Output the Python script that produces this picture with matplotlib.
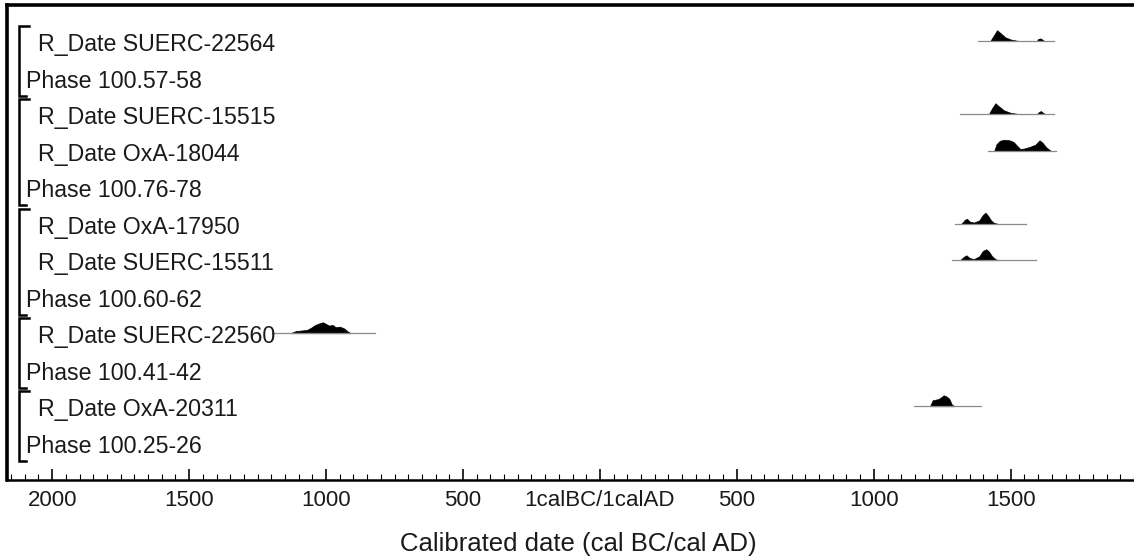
import matplotlib.pyplot as plt
from matplotlib.transforms import blended_transform_factory

plt.rcParams["font.family"] = ["Liberation Sans", "DejaVu Sans"]

labels = [
    "R_Date SUERC-22564",
    "Phase 100.57-58",
    "R_Date SUERC-15515",
    "R_Date OxA-18044",
    "Phase 100.76-78",
    "R_Date OxA-17950",
    "R_Date SUERC-15511",
    "Phase 100.60-62",
    "R_Date SUERC-22560",
    "Phase 100.41-42",
    "R_Date OxA-20311",
    "Phase 100.25-26",
]

# phase brackets: (first row, last row)
groups = [(0, 1), (2, 4), (5, 7), (8, 9), (10, 11)]

# year ranges of the thin line under each date
ranges = {
    0: (1382, 1658),
    2: (1313, 1658),
    3: (1418, 1665),
    5: (1295, 1556),
    6: (1284, 1593),
    8: (-1196, -822),
    10: (1145, 1393),
}

# probability shapes: years and relative height
dist_years = {
    0: [1425, 1440, 1450, 1462, 1480, 1500, 1520, 1540, 1595, 1600, 1608, 1615, 1622],
    2: [1420, 1432, 1444, 1455, 1475, 1500, 1525, 1545, 1595, 1603, 1610, 1618, 1625],
    3: [1440, 1448, 1460, 1475, 1495, 1510, 1525, 1535, 1550, 1570, 1590, 1605, 1615, 1630, 1645],
    5: [1320, 1332, 1340, 1350, 1365, 1385, 1398, 1408, 1418, 1428, 1440, 1450],
    6: [1315, 1328, 1338, 1350, 1365, 1385, 1398, 1410, 1420, 1432, 1445, 1460],
    8: [-1130, -1110, -1090, -1070, -1055, -1040, -1025, -1012, -1000, -990, -975, -965, -950, -935, -920, -910],
    10: [1205, 1215, 1225, 1235, 1245, 1255, 1265, 1275, 1285, 1295],
}
dist_prob = {
    0: [0, 0.6, 1.0, 0.75, 0.35, 0.15, 0.05, 0, 0, 0.2, 0.25, 0.15, 0],
    2: [0, 0.55, 1.0, 0.75, 0.35, 0.12, 0.03, 0, 0, 0.2, 0.28, 0.12, 0],
    3: [0, 0.6, 0.9, 1.0, 0.95, 0.8, 0.4, 0.15, 0.2, 0.35, 0.55, 0.95, 0.75, 0.3, 0],
    5: [0, 0.35, 0.45, 0.2, 0.1, 0.3, 0.8, 1.0, 0.7, 0.3, 0.05, 0],
    6: [0, 0.3, 0.45, 0.2, 0.1, 0.35, 0.85, 1.0, 0.8, 0.35, 0.08, 0],
    8: [0, 0.2, 0.25, 0.3, 0.5, 0.75, 0.9, 1.0, 0.85, 0.7, 0.75, 0.55, 0.6, 0.45, 0.15, 0],
    10: [0, 0.55, 0.6, 0.65, 0.8, 1.0, 0.9, 0.7, 0.15, 0],
}

tick_years = [-2000, -1500, -1000, -500, 0, 500, 1000, 1500]
tick_labels = ["2000", "1500", "1000", "500", "1calBC/1calAD", "500", "1000", "1500"]


def main():
    fig = plt.figure(figsize=(11.34, 5.6), dpi=100)
    ax = fig.add_axes([7 / 1134, 80 / 560, 1 - 7 / 1134, 475 / 560])

    ax.set_xlim(-2165, 1935)
    ax.set_ylim(11.94, -1.07)

    trans = blended_transform_factory(ax.transAxes, ax.transData)
    for i, name in enumerate(labels):
        x = 0.0165 if name.startswith("Phase") else 0.0275
        ax.text(x, i + 0.02, name, transform=trans, fontsize=16.7,
                ha="left", va="center", color="#1a1a1a")

    for first, last in groups:
        top = first - 0.49
        bottom = last + 0.41
        ax.plot([0.0195, 0.0106, 0.0106, 0.017], [top, top, bottom, bottom],
                transform=trans, color="black", lw=1.8, solid_joinstyle="miter",
                clip_on=False)

    base = -0.08
    scale = 0.3
    for row, (lo, hi) in ranges.items():
        ax.plot([lo, hi], [row + base, row + base], color="#8a8a8a", lw=0.9)
        ys = [row + base - p * scale for p in dist_prob[row]]
        ax.fill_between(dist_years[row], row + base, ys, color="black", lw=0.5)

    ax.set_xticks(tick_years)
    ax.set_xticklabels(tick_labels)
    ax.set_xticks(range(-2150, 1951, 50), minor=True)
    ax.set_yticks([])
    ax.tick_params(axis="x", which="major", direction="in", length=8, width=1.3,
                   labelsize=16, pad=7, colors="#1a1a1a")
    ax.tick_params(axis="x", which="minor", direction="in", length=4, width=0.8)

    ax.spines["top"].set_linewidth(2.6)
    ax.spines["left"].set_linewidth(2.6)
    ax.spines["bottom"].set_linewidth(1.8)
    ax.spines["right"].set_visible(False)

    ax.set_xlabel("Calibrated date (cal BC/cal AD)", fontsize=18.5, color="#1a1a1a")
    ax.xaxis.set_label_coords((578 - 7) / 1127, -0.11)

    fig.savefig("out.png", dpi=100)
    plt.close(fig)


if __name__ == "__main__":
    main()
